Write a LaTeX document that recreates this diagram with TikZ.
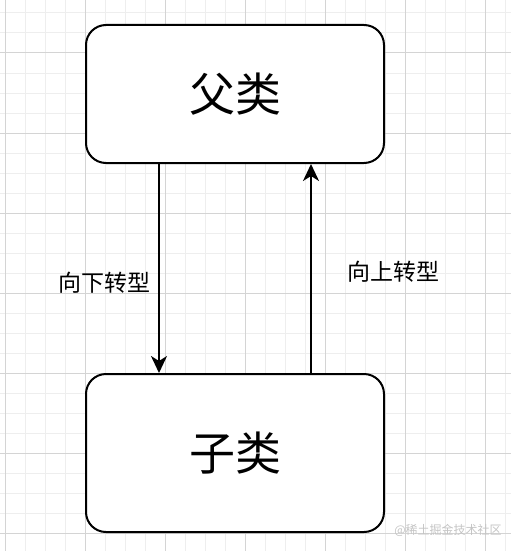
\documentclass[tikz,border=0pt]{standalone}
\usepackage{fontspec}
\setmainfont{Noto Sans CJK SC}
\usepackage{xcolor}
\usepackage{tikz}
\usetikzlibrary{arrows.meta}
\usetikzlibrary{positioning}
\definecolor{gridminor}{HTML}{EEEEEE}
\definecolor{gridmajor}{HTML}{D4D4D4}
\definecolor{markgray}{HTML}{C4C4C4}
\tikzset{
    tnode/.style = {align=center, inner sep=0pt, text centered},
    class_node/.style = {tnode, rectangle, draw=black, fill=white, line width=2pt, rounded corners=20pt, minimum width=298pt, font=\fontsize{46}{46}\selectfont},
    cast_label/.style = {tnode, black, font=\fontsize{23}{23}\selectfont},
    mark_label/.style = {tnode, markgray, font=\fontsize{12}{12}\selectfont},
    minor_line/.style = {gridminor, line width=1pt},
    major_line/.style = {gridmajor, line width=1pt}
}

\begin{document}
\begin{tikzpicture}
            [x=1pt, y=-1pt,
            cast/.style={line width=2pt, -{Stealth[length=17pt, width=16pt, inset=5pt]}}]

            \useasboundingbox (0,0) rectangle (511,551);

            % background grid
            \foreach \x in {5,25,...,505}
                \draw [minor_line] (\x,0) -- (\x,551);
            \foreach \y in {13,33,...,553}
                \draw [minor_line] (0,\y) -- (511,\y);
            \foreach \x in {5,85,...,485}
                \draw [major_line] (\x,0) -- (\x,551);
            \foreach \y in {53,133,...,533}
                \draw [major_line] (0,\y) -- (511,\y);

            \node [class_node, minimum height=138pt] (parent) at (235,94) {父类};
            \node [class_node, minimum height=158pt, below=209pt of parent] (child) {子类};

            \draw [cast] ([xshift=-76pt]parent.south) -- ([xshift=-76pt]child.north)
                node [cast_label, pos=0.567, anchor=east, xshift=-8pt] (down) {向下转型};
            \draw [cast] ([xshift=76pt]child.north) -- ([xshift=76pt]parent.south)
                node [cast_label, pos=0.486, anchor=west, xshift=35pt] (up) {向上转型};

            \node [mark_label] (mark) at (448,530) {@稀土掘金技术社区};
\end{tikzpicture}
\end{document}
